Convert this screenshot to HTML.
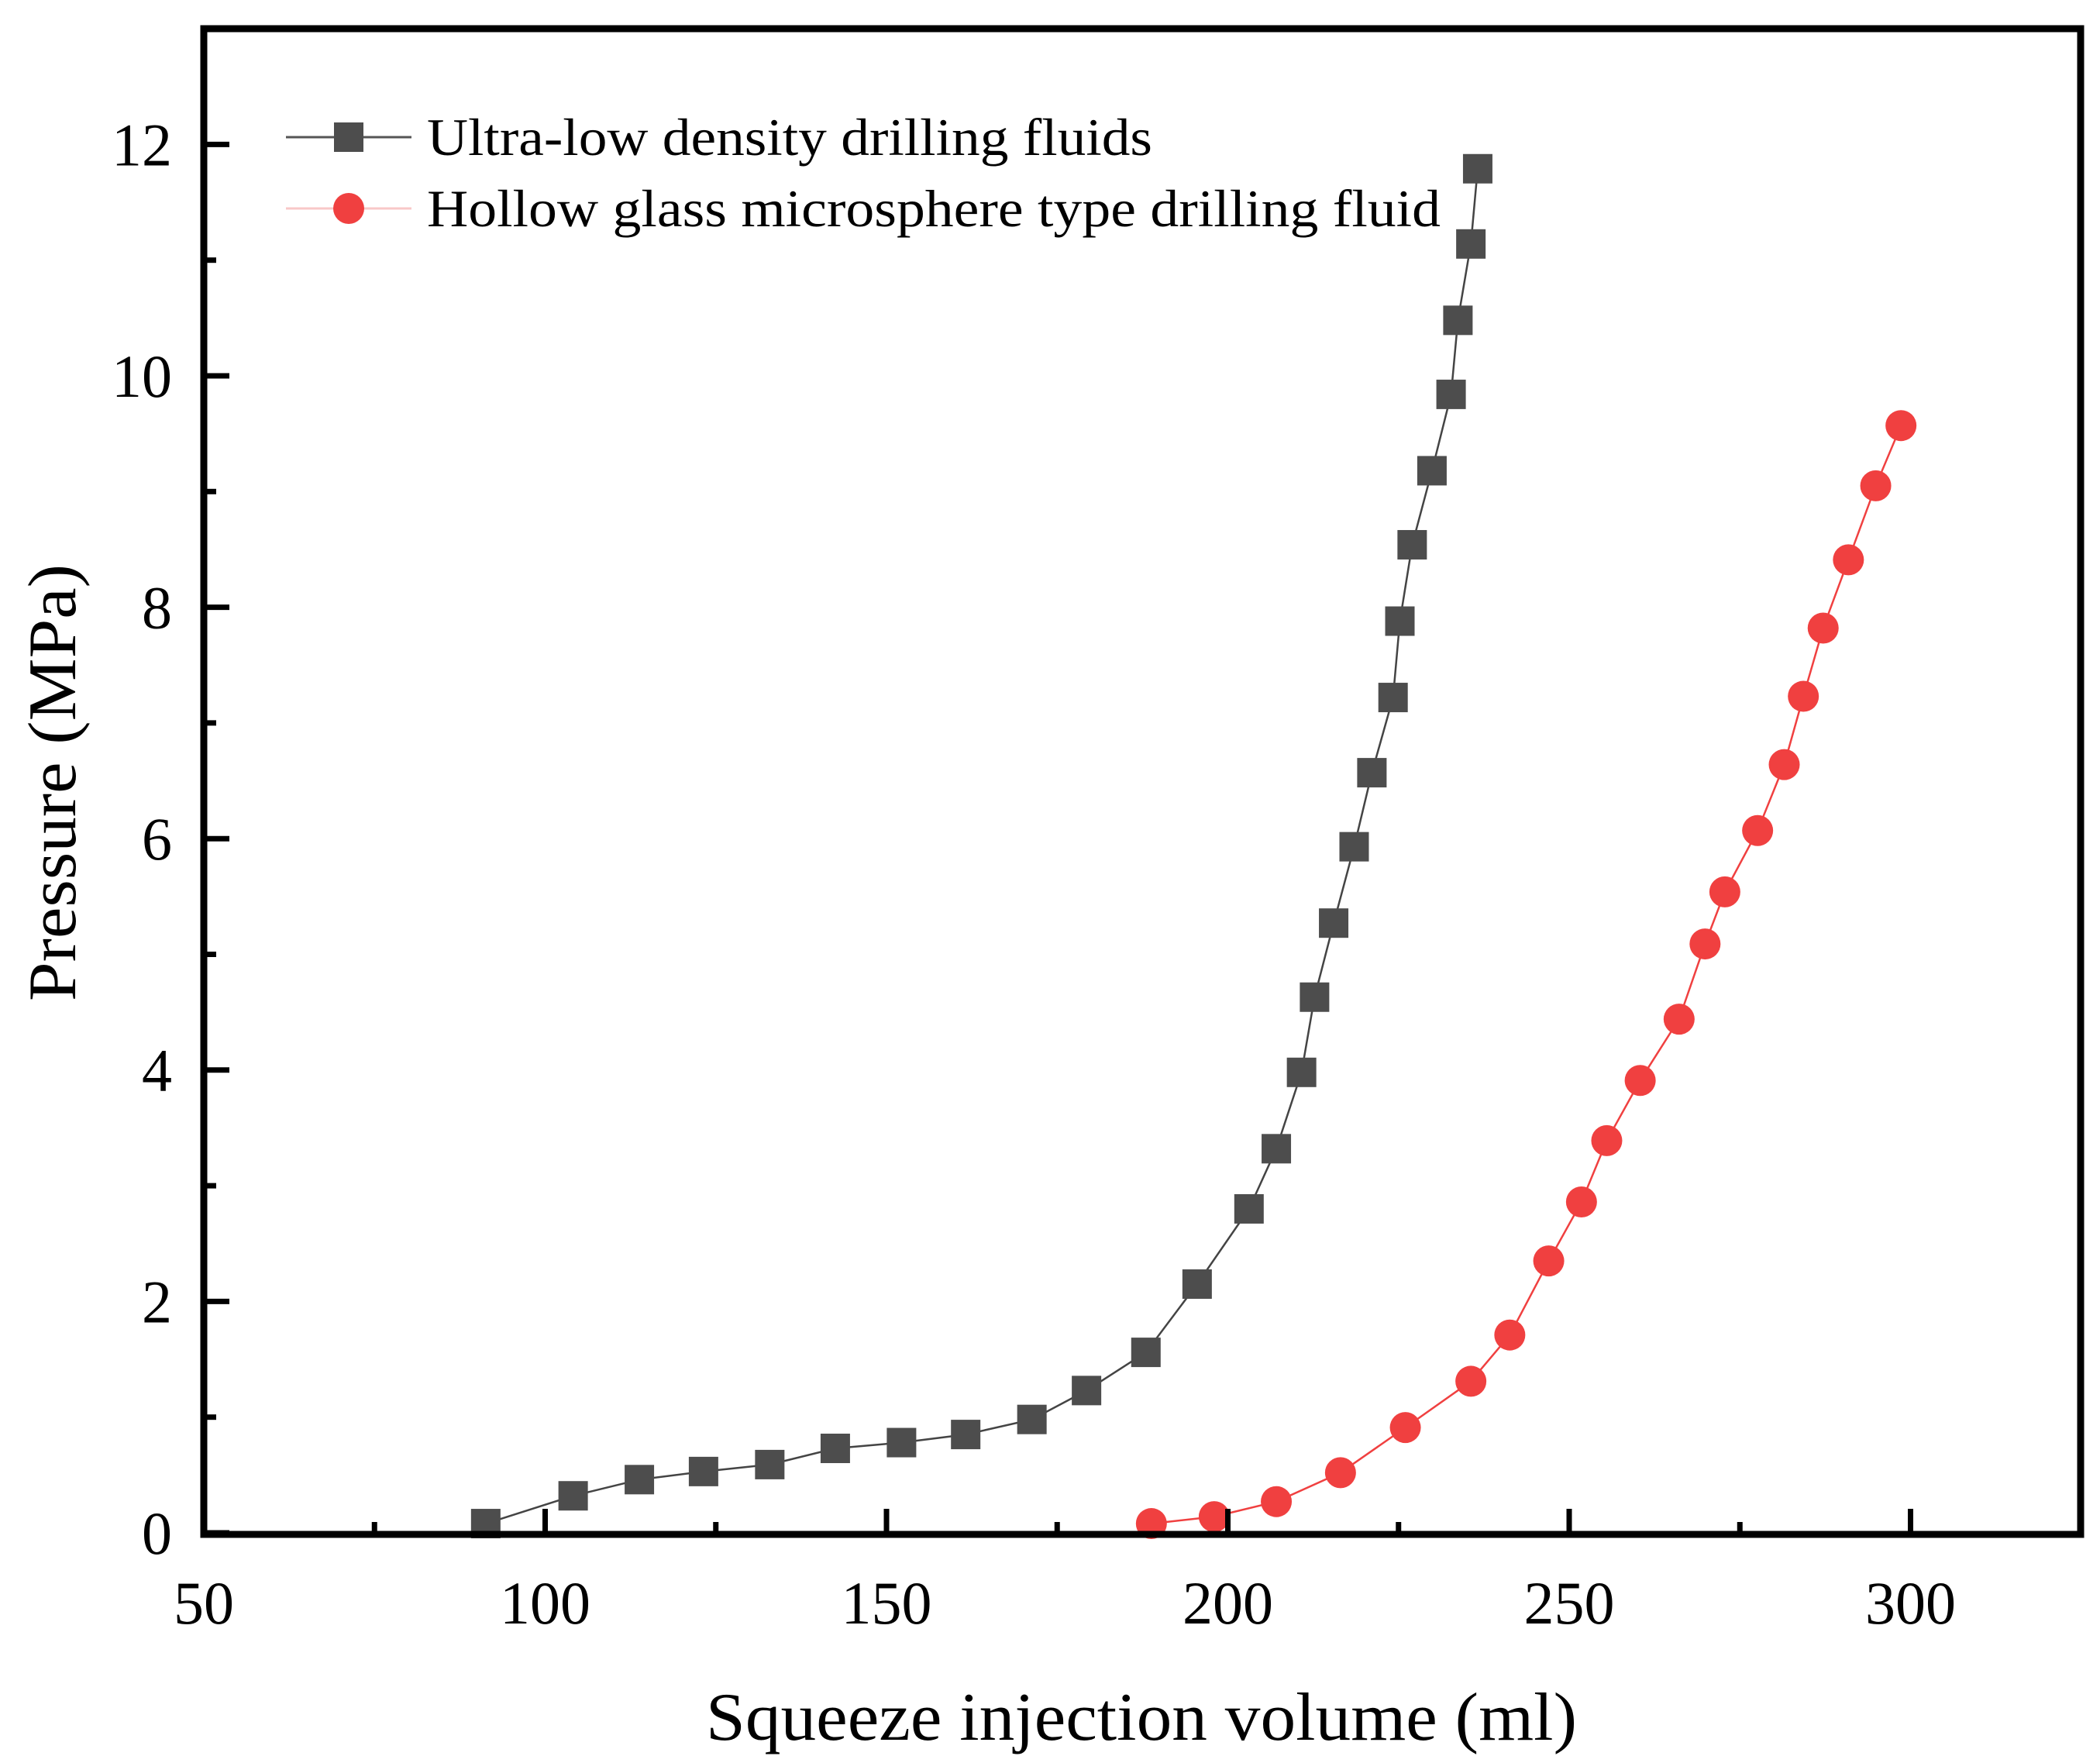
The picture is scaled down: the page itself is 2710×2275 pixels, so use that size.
<!DOCTYPE html>
<html><head><meta charset="utf-8"><style>
html,body{margin:0;padding:0;background:#fff;}
svg{display:block;font-family:"Liberation Serif",serif;}
</style></head><body>
<svg id="chart" width="2710" height="2275" viewBox="0 0 2710 2275" xmlns="http://www.w3.org/2000/svg">
<g id="plot"></g>
<g id="axes"></g>
<text x="1473" y="2245" font-size="88" text-anchor="middle" textLength="1124" lengthAdjust="spacingAndGlyphs">Squeeze injection volume (ml)</text>
<text transform="translate(97,1010) rotate(-90)" font-size="88" text-anchor="middle" textLength="564" lengthAdjust="spacingAndGlyphs">Pressure (MPa)</text>
<g>
<line x1="369" y1="177" x2="531" y2="177" stroke="#555" stroke-width="3"/>
<rect x="431" y="158" width="38" height="38" fill="#4d4d4d"/>
<text x="551" y="200" font-size="68" textLength="936" lengthAdjust="spacingAndGlyphs">Ultra-low density drilling fluids</text>
<line x1="369" y1="269" x2="531" y2="269" stroke="#f8c8c8" stroke-width="3"/>
<circle cx="450" cy="269" r="20" fill="#f04040"/>
<text x="551" y="292" font-size="68" textLength="1308" lengthAdjust="spacingAndGlyphs">Hollow glass microsphere type drilling fluid</text>
</g>
</svg>
<script>
const xTicks=[50,100,150,200,250,300];
const yTicks=[0,2,4,6,8,10,12];
const seriesAX=[91.3,104.1,113.8,123.2,132.9,142.5,152.2,161.6,171.3,179.3,188,195.5,203.1,207.1,210.8,212.7,215.5,218.5,221.1,224.2,225.2,227,229.9,232.7,233.7,235.6,236.6];
const seriesAY=[0.08,0.32,0.46,0.53,0.59,0.73,0.78,0.85,0.98,1.23,1.56,2.15,2.80,3.32,3.98,4.63,5.27,5.93,6.57,7.22,7.88,8.54,9.18,9.84,10.48,11.14,11.79];
const seriesBX=[188.8,198,207.1,216.5,226,235.6,241.3,247,251.8,255.5,260.4,266.1,269.9,272.8,277.6,281.5,284.3,287.2,290.9,294.9,298.6];
const seriesBY=[0.08,0.14,0.27,0.52,0.91,1.31,1.71,2.35,2.86,3.39,3.91,4.44,5.09,5.54,6.07,6.64,7.23,7.82,8.41,9.05,9.57];

const NS="http://www.w3.org/2000/svg";
const L=263,T=37,R=2685,B=1980;
const X0=50,PXX=8.81, Y0PX=1978, PXY=149.3;
function sx(v){return L+(v-X0)*PXX;}
function sy(v){return Y0PX-v*PXY;}
function mk(tag,attrs,parent){const e=document.createElementNS(NS,tag);for(const k in attrs)e.setAttribute(k,attrs[k]);parent.appendChild(e);return e;}
const plot=document.getElementById('plot'), axes=document.getElementById('axes');

function drawSeries(xs,ys,color,lineColor,shape,name){
  let d=xs.map((x,i)=>(i?'L':'M')+sx(x).toFixed(1)+' '+sy(ys[i]).toFixed(1)).join(' ');
  const p=mk('path',{d:d,fill:'none',stroke:lineColor,'stroke-width':2.5},plot);
  
  
  xs.forEach((x,i)=>{
    let m;
    if(shape==='square') m=mk('rect',{x:sx(x)-19,y:sy(ys[i])-19,width:38,height:38,fill:color},plot);
    else m=mk('circle',{cx:sx(x),cy:sy(ys[i]),r:20,fill:color},plot);
    
    
  });
}
drawSeries(seriesAX,seriesAY,'#4d4d4d','#444','square','ultra-low-density');
drawSeries(seriesBX,seriesBY,'#f04040','#f04040','circle','hollow-glass');

const frame=mk('rect',{x:L,y:T,width:R-L,height:B-T,fill:'none',stroke:'#000','stroke-width':9},axes);



for(let v=50;v<=320;v+=25){
  const major=(v%50===0);
  const t=mk('line',{x1:sx(v),x2:sx(v),y1:B,y2:B-(major?33:16),stroke:'#000','stroke-width':7},axes);
  
  
}
xTicks.forEach(v=>{
  const t=mk('text',{x:sx(v),y:2095,'font-size':78,'text-anchor':'middle'},axes);
  t.textContent=v;
  
  
});
for(let v=0;v<=12;v+=1){
  const major=(v%2===0);
  const t=mk('line',{x1:L,x2:L+(major?33:16),y1:sy(v),y2:sy(v),stroke:'#000','stroke-width':7},axes);
  
  
}
yTicks.forEach(v=>{
  const t=mk('text',{x:222,y:sy(v)+27,'font-size':78,'text-anchor':'end'},axes);
  t.textContent=v;
  
  
});
</script>
</body></html>
